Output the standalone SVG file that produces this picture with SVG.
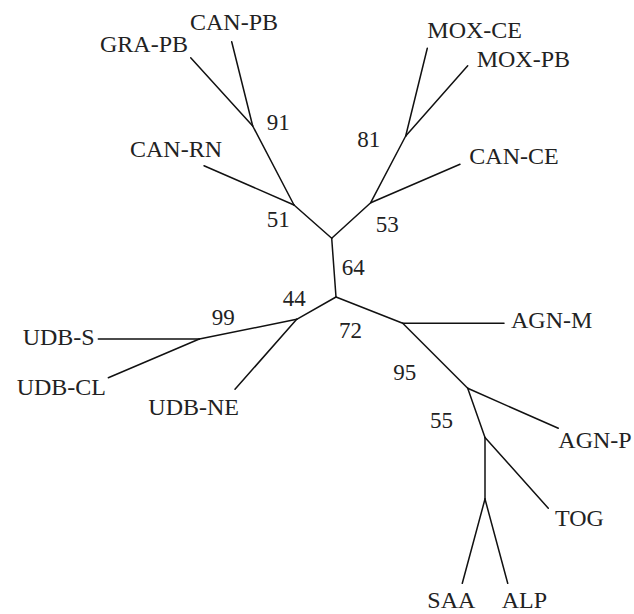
<svg xmlns="http://www.w3.org/2000/svg" width="634" height="614" viewBox="0 0 634 614">
<style>
.e{stroke:#111;stroke-width:1.5;fill:none;stroke-linecap:round}
text{font-family:"Liberation Serif","Times New Roman",serif;font-size:24px;fill:#222}
.b{font-size:23px}
</style>
<rect width="634" height="614" fill="#fff"/>
<g id="connectors">
<line class="e" x1="331.7" y1="238.3" x2="336" y2="297"/>
<line class="e" x1="331.7" y1="238.3" x2="294" y2="205"/>
<line class="e" x1="294" y1="205" x2="204" y2="165.7"/>
<line class="e" x1="294" y1="205" x2="252.7" y2="126"/>
<line class="e" x1="252.7" y1="126" x2="190.7" y2="57.7"/>
<line class="e" x1="252.7" y1="126" x2="231.7" y2="41.7"/>
<line class="e" x1="331.7" y1="238.3" x2="370.7" y2="202.7"/>
<line class="e" x1="370.7" y1="202.7" x2="460" y2="164.3"/>
<line class="e" x1="370.7" y1="202.7" x2="405.7" y2="136"/>
<line class="e" x1="405.7" y1="136" x2="427.3" y2="48.3"/>
<line class="e" x1="405.7" y1="136" x2="467.7" y2="65.7"/>
<line class="e" x1="336" y1="297" x2="296.7" y2="319.3"/>
<line class="e" x1="296.7" y1="319.3" x2="199.3" y2="339"/>
<line class="e" x1="296.7" y1="319.3" x2="235" y2="389.3"/>
<line class="e" x1="199.3" y1="339" x2="98.3" y2="339"/>
<line class="e" x1="199.3" y1="339" x2="108.3" y2="377.7"/>
<line class="e" x1="336" y1="297" x2="402.7" y2="323.3"/>
<line class="e" x1="402.7" y1="323.3" x2="504" y2="323.3"/>
<line class="e" x1="402.7" y1="323.3" x2="467.7" y2="388.3"/>
<line class="e" x1="467.7" y1="388.3" x2="558.3" y2="428.3"/>
<line class="e" x1="467.7" y1="388.3" x2="485" y2="437.5"/>
<line class="e" x1="485" y1="437.5" x2="548.3" y2="508.3"/>
<line class="e" x1="485" y1="437.5" x2="485" y2="499"/>
<line class="e" x1="485" y1="499" x2="462.3" y2="583.3"/>
<line class="e" x1="485" y1="499" x2="507.7" y2="583.3"/>
</g>
<g id="leaf-CAN-PB"><text x="190" y="29.5">CAN-PB</text></g>
<g id="leaf-GRA-PB"><text x="100" y="51.7">GRA-PB</text></g>
<g id="leaf-CAN-RN"><text x="130" y="156.7">CAN-RN</text></g>
<g id="leaf-MOX-CE"><text x="427.3" y="38.3">MOX-CE</text></g>
<g id="leaf-MOX-PB"><text x="476.7" y="66.7">MOX-PB</text></g>
<g id="leaf-CAN-CE"><text x="469.3" y="164">CAN-CE</text></g>
<g id="leaf-UDB-S"><text x="22.7" y="345">UDB-S</text></g>
<g id="leaf-UDB-CL"><text x="16.7" y="395">UDB-CL</text></g>
<g id="leaf-UDB-NE"><text x="148.3" y="415">UDB-NE</text></g>
<g id="leaf-AGN-M"><text x="511" y="328.3">AGN-M</text></g>
<g id="leaf-AGN-P"><text x="558.3" y="448.3">AGN-P</text></g>
<g id="leaf-TOG"><text x="555" y="526">TOG</text></g>
<g id="leaf-SAA"><text x="427.3" y="608">SAA</text></g>
<g id="leaf-ALP"><text x="501.7" y="608">ALP</text></g>
<g id="node-91"><text class="b" x="266.7" y="130">91</text></g>
<g id="node-51"><text class="b" x="266.7" y="226.7">51</text></g>
<g id="node-81"><text class="b" x="357.3" y="146.7">81</text></g>
<g id="node-53"><text class="b" x="375.7" y="231.7">53</text></g>
<g id="node-64"><text class="b" x="341.7" y="275">64</text></g>
<g id="node-44"><text class="b" x="282.7" y="306">44</text></g>
<g id="node-99"><text class="b" x="211.7" y="325">99</text></g>
<g id="node-72"><text class="b" x="339" y="337.7">72</text></g>
<g id="node-95"><text class="b" x="393.3" y="380">95</text></g>
<g id="node-55"><text class="b" x="430" y="428.3">55</text></g>
</svg>
